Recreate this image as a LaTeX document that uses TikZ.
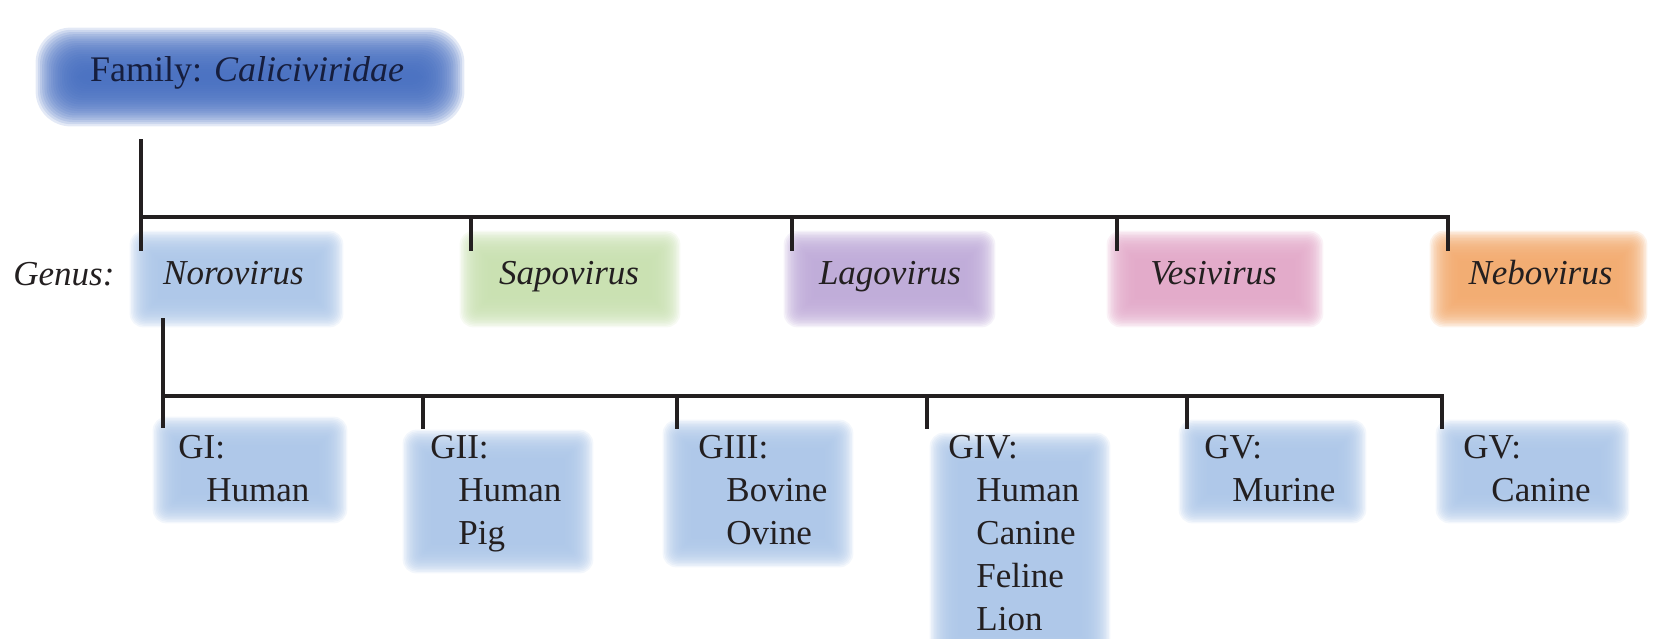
\documentclass[tikz,border=0pt]{standalone}
\usepackage{fontspec}
\setmainfont{Liberation Serif}
\usetikzlibrary{backgrounds,fit}
\definecolor{famblue}{RGB}{70,110,192}
\definecolor{lblue}{RGB}{172,198,232}
\definecolor{lgreen}{RGB}{200,224,176}
\definecolor{lpurple}{RGB}{190,170,216}
\definecolor{lpink}{RGB}{226,168,200}
\definecolor{lorange}{RGB}{242,170,110}
\definecolor{ink}{RGB}{35,31,32}
\definecolor{famink}{RGB}{22,30,62}
% #1 corner radius (px), #2 blur step (px), #3 colour, #4 node
\newcommand\fuzzfill[4]{%
  \foreach \k in {-11,...,10}{%
    \pgfmathsetmacro\rr{max(0.5,(#1+0.6*#2*\k)*0.5)}%
    \fill[#3, fill opacity=0.15, rounded corners=\rr pt] ([shift={(-#2*\k,-#2*\k)}]#4.north west) rectangle ([shift={(#2*\k,#2*\k)}]#4.south east);
  }%
}
\tikzset{
  fitbox/.style={rectangle, inner sep=0pt, draw=none},
  lbl/.style={inner sep=0pt, text=ink, font=\fontsize{17.5}{21.5}\selectfont},
  conn/.style={draw=ink, line width=2pt, line join=miter},
}
\begin{document}
\begin{tikzpicture}[x=0.5pt, y=-0.5pt]
\useasboundingbox (0,0) rectangle (1659,638);
% boxes
\node[fitbox, fit={(58,50) (442,104)}] (bFam) {};
\node[fitbox, fit={(145,246) (328,312)}] (bNoro) {};
\node[fitbox, fit={(475,246) (665,312)}] (bSapo) {};
\node[fitbox, fit={(799,246) (980,312)}] (bLago) {};
\node[fitbox, fit={(1122,246) (1308,312)}] (bVesi) {};
\node[fitbox, fit={(1445,246) (1632,312)}] (bNebo) {};
\node[fitbox, fit={(168,432) (332,508)}] (bGI) {};
\node[fitbox, fit={(418,445) (578,558)}] (bGII) {};
\node[fitbox, fit={(678,435) (838,552)}] (bGIII) {};
\node[fitbox, fit={(945,448) (1095,650)}] (bGIV) {};
\node[fitbox, fit={(1194,435) (1351,508)}] (bGVa) {};
\node[fitbox, fit={(1451,435) (1614,508)}] (bGVb) {};
\begin{scope}[on background layer]
\fuzzfill{22}{2.2}{famblue}{bFam}
\fuzzfill{5}{1.5}{lblue}{bNoro}
\fuzzfill{5}{1.5}{lgreen}{bSapo}
\fuzzfill{5}{1.5}{lpurple}{bLago}
\fuzzfill{5}{1.5}{lpink}{bVesi}
\fuzzfill{5}{1.5}{lorange}{bNebo}
\fuzzfill{5}{1.5}{lblue}{bGI}
\fuzzfill{5}{1.5}{lblue}{bGII}
\fuzzfill{5}{1.5}{lblue}{bGIII}
\fuzzfill{5}{1.5}{lblue}{bGIV}
\fuzzfill{5}{1.5}{lblue}{bGVa}
\fuzzfill{5}{1.5}{lblue}{bGVb}
\end{scope}
% texts
\node[lbl, text=famink, font=\fontsize{18}{22}\selectfont, anchor=base] (tFam) at (247,81) {Family: \textit{Caliciviridae}};
\node[lbl, anchor=base west] (tGenus) at (13,285) {\textit{Genus:}};
\node[lbl, anchor=base] (tNoro) at (233.5,284) {\textit{Norovirus}};
\node[lbl, anchor=base] (tSapo) at (569,284) {\textit{Sapovirus}};
\node[lbl, anchor=base] (tLago) at (890,284) {\textit{Lagovirus}};
\node[lbl, anchor=base] (tVesi) at (1213.5,284) {\textit{Vesivirus}};
\node[lbl, anchor=base] (tNebo) at (1540.5,284) {\textit{Nebovirus}};
\node[lbl, anchor=base west] (tGI) at (178,458) {\begin{tabular}[t]{@{}l@{}}GI:\\\hspace*{14pt}Human\end{tabular}};
\node[lbl, anchor=base west] (tGII) at (430,458) {\begin{tabular}[t]{@{}l@{}}GII:\\\hspace*{14pt}Human\\\hspace*{14pt}Pig\end{tabular}};
\node[lbl, anchor=base west] (tGIII) at (698,458) {\begin{tabular}[t]{@{}l@{}}GIII:\\\hspace*{14pt}Bovine\\\hspace*{14pt}Ovine\end{tabular}};
\node[lbl, anchor=base west] (tGIV) at (948,458) {\begin{tabular}[t]{@{}l@{}}GIV:\\\hspace*{14pt}Human\\\hspace*{14pt}Canine\\\hspace*{14pt}Feline\\\hspace*{14pt}Lion\end{tabular}};
\node[lbl, anchor=base west] (tGVa) at (1204,458) {\begin{tabular}[t]{@{}l@{}}GV:\\\hspace*{14pt}Murine\end{tabular}};
\node[lbl, anchor=base west] (tGVb) at (1463,458) {\begin{tabular}[t]{@{}l@{}}GV:\\\hspace*{14pt}Canine\end{tabular}};
% connector points, genus level
\coordinate (famstem) at (141,139);
\coordinate (hNoro) at (141,217);
\coordinate (kNoro) at (141,251);
\coordinate (hSapo) at (471,217);
\coordinate (kSapo) at (471,251);
\coordinate (hLago) at (792,217);
\coordinate (kLago) at (792,251);
\coordinate (hVesi) at (1117,217);
\coordinate (kVesi) at (1117,251);
\coordinate (hNebo) at (1448,217);
\coordinate (kNebo) at (1448,251);
% connector points, genogroup level
\coordinate (norostem) at (163,318);
\coordinate (hGI) at (163,396);
\coordinate (kGI) at (163,428);
\coordinate (hGII) at (423,396);
\coordinate (kGII) at (423,429);
\coordinate (hGIII) at (677,396);
\coordinate (kGIII) at (677,429);
\coordinate (hGIV) at (927,396);
\coordinate (kGIV) at (927,429);
\coordinate (hGVa) at (1187,396);
\coordinate (kGVa) at (1187,429);
\coordinate (hGVb) at (1442,396);
\coordinate (kGVb) at (1442,429);
% connectors
\draw[conn] (famstem) -- (kNoro);
\draw[conn] (hNoro) -- (hNebo) -- (kNebo);
\draw[conn] (hSapo) -- (kSapo);
\draw[conn] (hLago) -- (kLago);
\draw[conn] (hVesi) -- (kVesi);
\draw[conn] (norostem) -- (kGI);
\draw[conn] (hGI) -- (hGVb) -- (kGVb);
\draw[conn] (hGII) -- (kGII);
\draw[conn] (hGIII) -- (kGIII);
\draw[conn] (hGIV) -- (kGIV);
\draw[conn] (hGVa) -- (kGVa);
\end{tikzpicture}
\end{document}
